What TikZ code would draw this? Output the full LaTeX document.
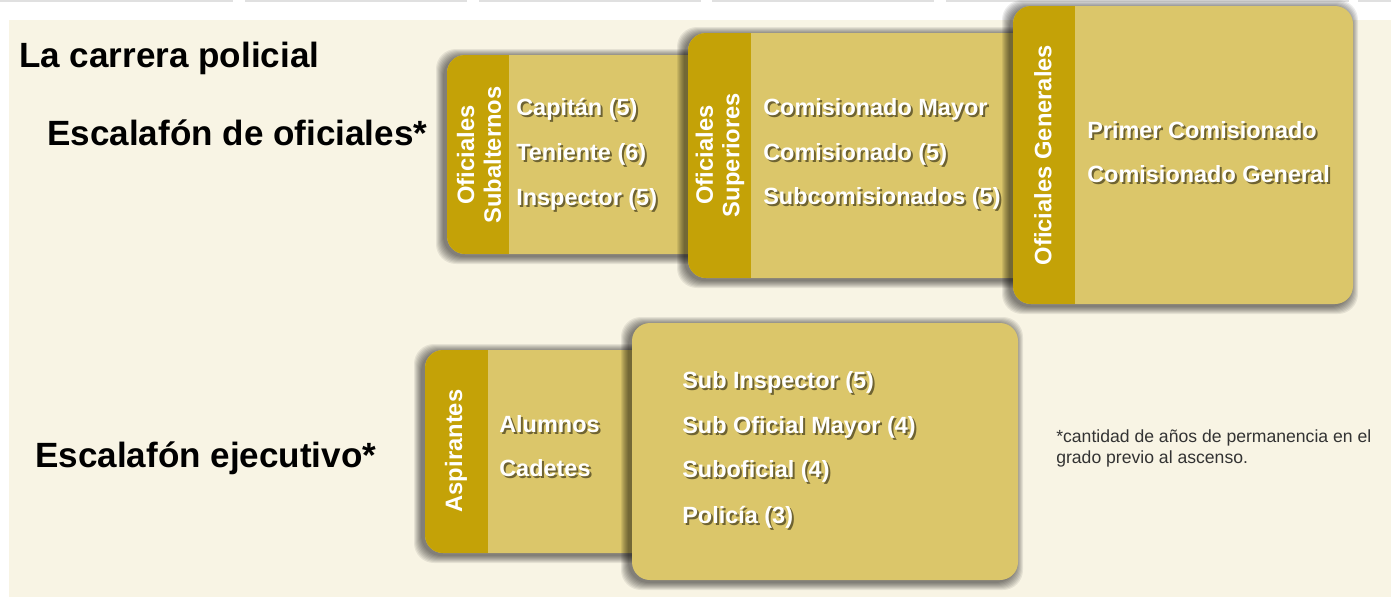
\documentclass[tikz,border=0pt]{standalone}
\usepackage{fontspec}
\setmainfont{Liberation Sans}
\definecolor{cream}{HTML}{F8F4E4}
\definecolor{gold}{HTML}{DBC66A}
\definecolor{tabgold}{HTML}{C4A207}
\definecolor{txtsh}{HTML}{4A4220}
\tikzset{
  cardbox/.style={fill=gold, rounded corners=13.5pt},
  shadowlayer/.style={fill=black, opacity=0.075, rounded corners=15pt},
  itemtxt/.style={anchor=base west, inner sep=0pt, text=white, font=\fontsize{17.6pt}{20pt}\selectfont\bfseries},
  itemshadow/.style={itemtxt, text=txtsh, opacity=0.75},
  tabtxt/.style={rotate=90, align=center, text=white, inner sep=0pt, font=\fontsize{17.8pt}{20pt}\selectfont\bfseries},
  heading/.style={anchor=base west, inner sep=0pt, font=\fontsize{26.3pt}{30pt}\selectfont\bfseries},
  note/.style={anchor=base west, inner sep=0pt, text=black!80, font=\fontsize{13.2pt}{15pt}\selectfont},
  topline/.style={draw=black!12, line width=1.5pt},
}
\newcommand\itm[3]{%
  \node[itemshadow, xshift=1.5pt, yshift=-1.5pt] at (#1) {#3};
  \node[itemtxt] (#2) at (#1) {#3};}
\newcommand\shad[4]{%
  \foreach \i in {0,...,7}
    \fill[shadowlayer] ({#1-4-\i},{#2+1-\i}) rectangle ({#3-2+\i},{#4+3+\i});}
\newcommand\card[6]{%
  \shad{#2}{#3}{#4}{#5}
  \path[cardbox] (#2,#3) rectangle (#4,#5);
  \begin{scope}
    \clip[rounded corners=13.5pt] (#2,#3) rectangle (#4,#5);
    \fill[tabgold] (#2,#3) rectangle (#6,#5);
  \end{scope}
  \coordinate (#1) at (#2,#3);}
\begin{document}
\begin{tikzpicture}[x=0.75pt, y=-0.75pt]
\useasboundingbox (0,0) rectangle (1391,597);
\fill[white] (0,0) rectangle (1391,597);
\fill[cream] (9,20) rectangle (1391,597);
\foreach \a/\b in {0/233, 245/467, 479/701, 712/934, 946/1349, 1358/1391}
  \draw[topline] (\a,1) -- (\b,1);

% headings
\node[heading] (title) at (19,67) {La carrera policial};
\node[heading] (hof) at (47,145) {Escalafón de oficiales*};
\node[heading] (hej) at (35,467) {Escalafón ejecutivo*};

% top cards
\card{c1}{447}{55}{720}{254}{509}
\node[tabtxt] (t1) at (479,155) {Oficiales\\Subalternos};
\itm{516,115}{i11}{Capitán (5)}
\itm{516,160}{i12}{Teniente (6)}
\itm{516,205}{i13}{Inspector (5)}

\card{c2}{688}{33}{1040}{278}{751}
\node[tabtxt] (t2) at (720,155) {Oficiales\\Superiores};
\itm{763,115}{i21}{Comisionado Mayor}
\itm{763,160}{i22}{Comisionado (5)}
\itm{763,204}{i23}{Subcomisionados (5)}

\card{c3}{1013}{6}{1353}{304}{1075}
\node[tabtxt] (t3) at (1043,155) {Oficiales Generales};
\itm{1087,138}{i31}{Primer Comisionado}
\itm{1087,182}{i32}{Comisionado General}

% bottom cards
\card{c4}{425}{350}{660}{553}{488}
\node[tabtxt] (t4) at (456,451) {Aspirantes};
\itm{499,432}{i41}{Alumnos}
\itm{499,476}{i42}{Cadetes}

\shad{632}{323}{1018}{580}
\path[cardbox] (632,323) rectangle (1018,580);
\coordinate (c5) at (632,323);
\itm{682,388}{i51}{Sub Inspector (5)}
\itm{682,433}{i52}{Sub Oficial Mayor (4)}
\itm{682,477}{i53}{Suboficial (4)}
\itm{682,523}{i54}{Policía (3)}

% footnote
\node[note] (n1) at (1056,442) {*cantidad de años de permanencia en el};
\node[note] (n2) at (1056,463) {grado previo al ascenso.};
\end{tikzpicture}
\end{document}
